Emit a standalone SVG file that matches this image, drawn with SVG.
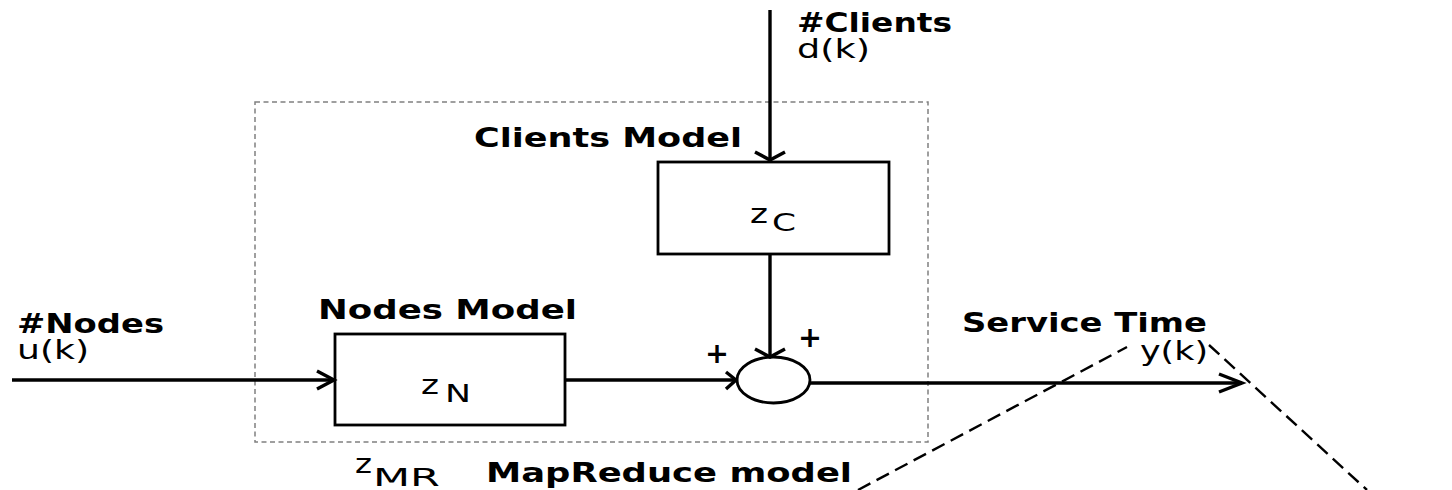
<svg xmlns="http://www.w3.org/2000/svg" width="1452" height="490" viewBox="0 0 1452 490">
  <style>
    .box { fill: #ffffff; stroke: #000000; stroke-width: 2.8; }
    .wire { fill: none; stroke: #000000; stroke-width: 3.4; }
    .head { fill: none; stroke: #000000; stroke-width: 3.4; stroke-linejoin: miter; }
    .frame { fill: none; stroke: #808080; stroke-width: 1.5; stroke-dasharray: 5 3.5; }
    .guide { fill: none; stroke: #000000; stroke-width: 2.4; stroke-dasharray: 14 7; }
    .lbl { font-family: "DejaVu Sans", Verdana, sans-serif; font-size: 26px; fill: #000000; }
    .bold { font-weight: bold; }
    .sym { font-family: "DejaVu Sans", Verdana, sans-serif; fill: #000000; }
  </style>

  <!-- MapReduce model container -->
  <g id="mapreduce-model">
    <rect class="frame" x="255" y="102" width="673" height="340"/>
    <text class="sym" x="355" y="473" font-size="27" textLength="17" lengthAdjust="spacingAndGlyphs">z</text>
    <text class="sym" x="373" y="486" font-size="24" textLength="67" lengthAdjust="spacingAndGlyphs">MR</text>
    <text class="lbl bold" x="486" y="482" textLength="366" lengthAdjust="spacingAndGlyphs">MapReduce model</text>
  </g>

  <!-- Clients model block -->
  <g id="clients-model">
    <rect class="box" x="658" y="162" width="231" height="92"/>
    <text class="lbl bold" x="474" y="147" textLength="268" lengthAdjust="spacingAndGlyphs">Clients Model</text>
    <text class="sym" x="750" y="223" font-size="27" textLength="18" lengthAdjust="spacingAndGlyphs">z</text>
    <text class="sym" x="772" y="231" font-size="24" textLength="24" lengthAdjust="spacingAndGlyphs">C</text>
  </g>

  <!-- Nodes model block -->
  <g id="nodes-model">
    <rect class="box" x="335" y="334" width="230" height="91"/>
    <text class="lbl bold" x="318" y="319" textLength="259" lengthAdjust="spacingAndGlyphs">Nodes Model</text>
    <text class="sym" x="421" y="394" font-size="27" textLength="18" lengthAdjust="spacingAndGlyphs">z</text>
    <text class="sym" x="445" y="402" font-size="24" textLength="26" lengthAdjust="spacingAndGlyphs">N</text>
  </g>

  <!-- Summing junction -->
  <g id="sum">
    <ellipse class="box" cx="773.5" cy="380" rx="36.5" ry="23"/>
    <text class="sym" x="705" y="363" font-size="28" font-weight="bold" textLength="24" lengthAdjust="spacingAndGlyphs">+</text>
    <text class="sym" x="798" y="347" font-size="28" font-weight="bold" textLength="24" lengthAdjust="spacingAndGlyphs">+</text>
  </g>

  <!-- Inputs and output labels -->
  <g id="input-clients">
    <text class="lbl bold" x="797" y="32" textLength="155" lengthAdjust="spacingAndGlyphs">#Clients</text>
    <text class="lbl" x="797" y="58" textLength="73" lengthAdjust="spacingAndGlyphs">d(k)</text>
  </g>
  <g id="input-nodes">
    <text class="lbl bold" x="17" y="333" textLength="147" lengthAdjust="spacingAndGlyphs">#Nodes</text>
    <text class="lbl" x="17" y="359" textLength="72" lengthAdjust="spacingAndGlyphs">u(k)</text>
  </g>
  <g id="output-service-time">
    <text class="lbl bold" x="962" y="332" textLength="245" lengthAdjust="spacingAndGlyphs">Service Time</text>
    <text class="lbl" x="1140" y="360" textLength="68" lengthAdjust="spacingAndGlyphs">y(k)</text>
  </g>

  <!-- Signal connectors -->
  <g id="connectors">
    <!-- d(k) into clients model -->
    <line class="wire" x1="770" y1="10" x2="770" y2="161"/>
    <polyline class="head" points="755,152 770,160 785,152"/>
    <!-- clients model into sum -->
    <line class="wire" x1="770" y1="254" x2="770" y2="356"/>
    <polyline class="head" points="755,349 770,357 785,349"/>
    <!-- u(k) into nodes model -->
    <line class="wire" x1="12" y1="380" x2="334" y2="380"/>
    <polyline class="head" points="317,371 334,380 317,389"/>
    <!-- nodes model into sum -->
    <line class="wire" x1="565" y1="380" x2="736" y2="380"/>
    <polyline class="head" points="726,372 736,380 726,389"/>
    <!-- sum to y(k) -->
    <line class="wire" x1="810" y1="383" x2="1242" y2="383"/>
    <polyline class="head" points="1219,374 1242,383 1219,392"/>
  </g>

  <!-- Dashed projection lines -->
  <g id="guides">
    <line class="guide" x1="858" y1="490" x2="1127" y2="347"/>
    <line class="guide" x1="1209" y1="345" x2="1367" y2="490"/>
  </g>
</svg>
